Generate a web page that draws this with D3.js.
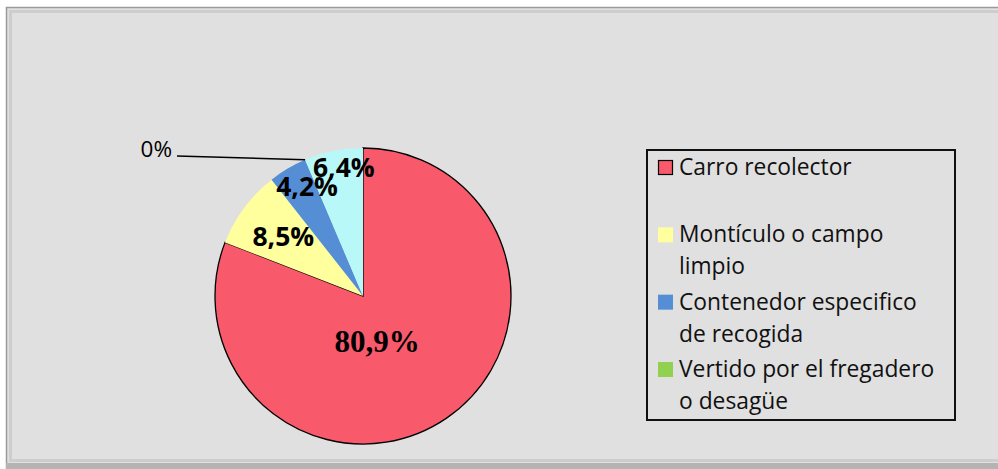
<!DOCTYPE html>
<html>
<head>
<meta charset="utf-8">
<script src="https://cdn.jsdelivr.net/npm/d3@7"></script>
<style>
  body { margin: 0; background: #fff; }
  svg { display: block; }
</style>
</head>
<body>
<div id="chart"></div>
<script>
// data
let categories = ["Carro recolector", "Montículo o campo limpio",
                  "Contenedor especifico de recogida", "Vertido por el fregadero o desagüe", "Otros"]
let values = [80.9, 8.5, 4.2, 0, 6.4]
let valueLabels = ["80,9%", "8,5%", "4,2%", "0%", "6,4%"]
let legendLines = [["Carro recolector"], ["Montículo o campo", "limpio"],
                   ["Contenedor especifico", "de recogida"], ["Vertido por el fregadero", "o desagüe"]]
let colors = ["#f8596b", "#ffff9e", "#558ed5", "#92d050", "#b9f8f8"]

let W = 998, H = 469

let svg = d3.select("#chart").append("svg")
  .attr("width", W)
  .attr("height", H)

// chart area frame (bevelled look)
svg.append("rect")
  .attr("x", 6.5).attr("y", 7.5)
  .attr("width", W + 10).attr("height", H - 3)
  .style("fill", "#e0e0e0")
  .style("stroke", "#9a9a9a")
  .style("stroke-width", 1.5)
svg.append("rect")
  .attr("x", 10.5).attr("y", 11.5)
  .attr("width", W + 10).attr("height", 449)
  .style("fill", "none")
  .style("stroke", "#cdcdcd")
  .style("stroke-width", 3)
svg.append("rect")
  .attr("x", 6).attr("y", 463)
  .attr("width", W).attr("height", 6)
  .style("fill", "#b4b4b4")

// pie
let cx = 363, cy = 296, R = 148

let pie = d3.pie().sort(null).value(d => d)
let arcs = pie(values)
let arc = d3.arc().innerRadius(0).outerRadius(R)

let g = svg.append("g").attr("transform", `translate(${cx},${cy})`)

g.selectAll("path")
  .data(arcs)
  .enter()
  .append("path")
  .attr("d", arc)
  .style("fill", (d, i) => colors[i])
  .style("stroke", (d, i) => i === 0 ? "#000" : "none")
  .style("stroke-width", 1.3)

// label placement: radius fraction along slice, angle shift in degrees
let labelPlace = [[0.32, 17], [0.67, 0], [0.83, 3.5], null, [0.875, 3]]

function polar(r, a) {
  return [Math.sin(a) * r, -Math.cos(a) * r]
}

arcs.forEach((d, i) => {
  if (d.value === 0) {
    // zero slice: leader line out to the left
    let p = polar(R, d.startAngle)
    let q = [-186, -140]
    g.append("line")
      .attr("x1", p[0]).attr("y1", p[1])
      .attr("x2", q[0]).attr("y2", q[1])
      .style("stroke", "#000")
      .style("stroke-width", 1.5)
    g.append("text")
      .attr("x", q[0] - 5).attr("y", q[1] + 1)
      .attr("text-anchor", "end")
      .style("font-family", "'Open Sans', sans-serif")
      .style("font-size", "22.5px")
      .text(valueLabels[i])
    return
  }
  let mid = (d.startAngle + d.endAngle) / 2 + labelPlace[i][1] * Math.PI / 180
  let p = polar(R * labelPlace[i][0], mid)
  g.append("text")
    .attr("x", p[0]).attr("y", p[1])
    .attr("dy", "0.35em")
    .attr("text-anchor", "middle")
    .style("font-family", i === 0 ? "'Liberation Serif', 'Times New Roman', serif" : "'Open Sans', sans-serif")
    .style("font-weight", "bold")
    .style("font-size", i === 0 ? "31px" : "26.5px")
    .text(valueLabels[i])
})

// legend
let legend = svg.append("g")
legend.append("rect")
  .attr("x", 647).attr("y", 150)
  .attr("width", 308).attr("height", 270)
  .style("fill", "none")
  .style("stroke", "#111")
  .style("stroke-width", 2)

let rowY = d3.scaleLinear().domain([0, 3]).range([175, 377])

legendLines.forEach((lines, i) => {
  let y = rowY(i)
  legend.append("rect")
    .attr("x", i === 0 ? 658.5 : 658).attr("y", i === 0 ? y - 14.5 : y - 15)
    .attr("width", i === 0 ? 14 : 15).attr("height", i === 0 ? 14 : 15)
    .style("fill", colors[i])
    .style("stroke", i === 0 ? "#000" : "none")
    .style("stroke-width", 1.2)
  lines.forEach((t, k) => {
    legend.append("text")
      .attr("x", 679).attr("y", y + k * 32)
      .style("font-family", "'Open Sans', sans-serif")
      .style("font-size", "22.8px")
      .style("fill", "#111")
      .text(t)
  })
})
</script>
</body>
</html>
